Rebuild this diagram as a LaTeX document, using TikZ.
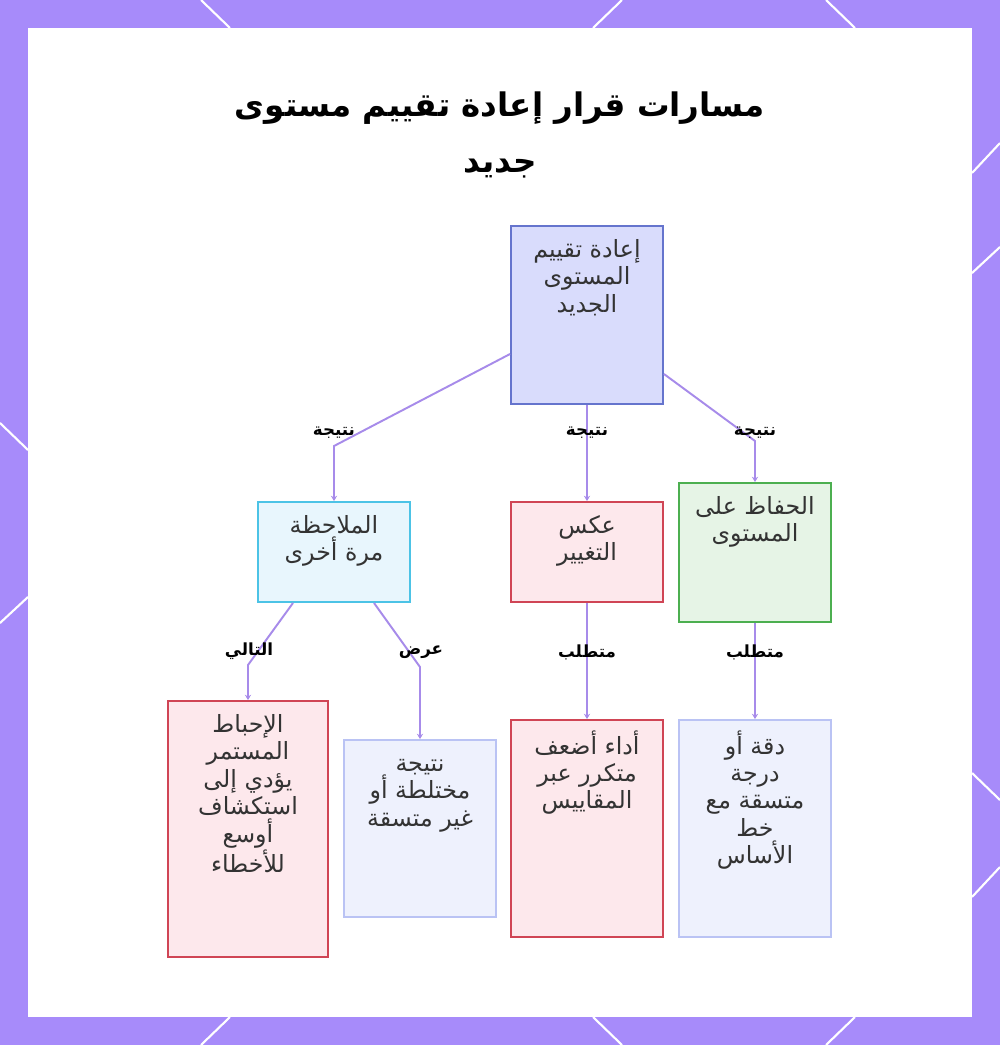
\documentclass[tikz,border=0pt]{standalone}
\usepackage{fontspec}
\usepackage{xcolor}
\usetikzlibrary{arrows.meta,calc,positioning}
\TeXXeTstate=1
\newfontfamily\arabicfont[Script=Arabic]{DejaVu Sans}
\newcommand{\arline}[1]{\beginR\rule{0pt}{12pt}#1\endR}
\newcommand{\arword}[1]{\beginR #1\endR}
\definecolor{framecol}{HTML}{A78BFA}
\definecolor{edgecol}{HTML}{A78BEA}
\definecolor{textgray}{HTML}{333333}
\definecolor{blueline}{HTML}{6574CD}
\definecolor{bluefill}{HTML}{D9DCFC}
\definecolor{cyanline}{HTML}{4CC3E6}
\definecolor{cyanfill}{HTML}{E8F6FD}
\definecolor{redline}{HTML}{D04555}
\definecolor{redfill}{HTML}{FDE8EC}
\definecolor{greenline}{HTML}{4CAF50}
\definecolor{greenfill}{HTML}{E6F4E6}
\definecolor{lavline}{HTML}{BAC3F4}
\definecolor{lavfill}{HTML}{EEF1FD}
\tikzset{%
	box/.style      = {draw, rectangle, line width=1.1pt, inner sep=0pt},
	bluebox/.style  = {box, draw=blueline, fill=bluefill},
	cyanbox/.style  = {box, draw=cyanline, fill=cyanfill},
	redbox/.style   = {box, draw=redline, fill=redfill},
	greenbox/.style = {box, draw=greenline, fill=greenfill},
	lavbox/.style   = {box, draw=lavline, fill=lavfill},
	boxtext/.style  = {align=center, inner sep=0pt, text=textgray, font=\arabicfont\fontsize{13.5}{15.6}\selectfont},
	edgelabel/.style= {inner sep=1pt, text=black, font=\arabicfont\bfseries\fontsize{9.5}{11}\selectfont},
	edge/.style     = {draw=edgecol, line width=1.1pt, -{Stealth[length=3pt,width=3.5pt]}},
}

\begin{document}
\begin{tikzpicture}[x=0.02cm,y=-0.02cm]
	\useasboundingbox (0,0) rectangle (1000,1045);
	\fill[framecol] (0,0) rectangle (1000,1045);  % outer frame
	\fill[white] (28,28) rectangle (972,1017);
	\foreach \ax/\ay/\bx/\by in {201/0/230/28, 622/0/593/28, 826/0/855/28,
		201/1045/230/1017, 622/1045/593/1017, 826/1045/855/1017,
		0/423/28/450, 0/623/28/597,
		1000/143/972/173, 1000/247/972/273, 1000/800/972/773, 1000/867/972/897}
		\draw[white, line width=1.2pt] (\ax,\ay) -- (\bx,\by);
	
	% title
	\node[align=center, text=black, font=\arabicfont\bfseries\fontsize{18.5}{32}\selectfont] (title) at (500,135)
		{\arword{مسارات قرار إعادة تقييم مستوى}\\\arword{جديد}};
	
	% boxes
	\node[bluebox, minimum width=3.04cm, minimum height=3.56cm] (root) at (587,315) {};
	\node[cyanbox, minimum width=3.04cm, minimum height=2.0cm] (observe) at (334,552) {};
	\node[redbox, minimum width=3.04cm, minimum height=2.0cm] (reverse) at (587,552) {};
	\node[greenbox, minimum width=3.04cm, minimum height=2.78cm] (keep) at (755,552.5) {};
	\node[redbox, minimum width=3.2cm, minimum height=5.12cm] (frustr) at (248,829) {};
	\node[lavbox, minimum width=3.04cm, minimum height=3.54cm] (mixed) at (420,828.5) {};
	\node[redbox, minimum width=3.04cm, minimum height=4.34cm] (weaker) at (587,828.5) {};
	\node[lavbox, minimum width=3.04cm, minimum height=4.34cm] (steady) at (755,828.5) {};
	
	% box texts
	\node[boxtext, below=0.22cm of root.north] (rootT)
		{\arline{إعادة تقييم}\\\arline{المستوى}\\\arline{الجديد}};
	\node[boxtext, below=0.22cm of observe.north] (observeT)
		{\arline{الملاحظة}\\\arline{مرة أخرى}};
	\node[boxtext, below=0.22cm of reverse.north] (reverseT)
		{\arline{عكس}\\\arline{التغيير}};
	\node[boxtext, below=0.22cm of keep.north] (keepT)
		{\arline{الحفاظ على}\\\arline{المستوى}};
	\node[boxtext, below=0.22cm of frustr.north] (frustrT)
		{\arline{الإحباط}\\\arline{المستمر}\\\arline{يؤدي إلى}\\\arline{استكشاف}\\\arline{أوسع}\\\arline{للأخطاء}};
	\node[boxtext, below=0.22cm of mixed.north] (mixedT)
		{\arline{نتيجة}\\\arline{مختلطة أو}\\\arline{غير متسقة}};
	\node[boxtext, below=0.22cm of weaker.north] (weakerT)
		{\arline{أداء أضعف}\\\arline{متكرر عبر}\\\arline{المقاييس}};
	\node[boxtext, below=0.22cm of steady.north] (steadyT)
		{\arline{دقة أو}\\\arline{درجة}\\\arline{متسقة مع}\\\arline{خط}\\\arline{الأساس}};
	
	% bends
	\coordinate (b1) at (334,446);
	\coordinate (b2) at (755,441);
	\coordinate (b3) at (248,665);
	\coordinate (b4) at (420,667);
	
	% connectors
	\draw[edge] ($(root.west)+(0,39)$) -- (b1) -- (observe.north);
	\draw[edge] (root.south) -- (reverse.north);
	\draw[edge] ($(root.east)+(0,59)$) -- (b2) -- (keep.north);
	\draw[edge] ($(observe.south)+(-41,0)$) -- (b3) -- (frustr.north);
	\draw[edge] ($(observe.south)+(40,0)$) -- (b4) -- (mixed.north);
	\draw[edge] (reverse.south) -- (weaker.north);
	\draw[edge] (keep.south) -- (steady.north);
	
	% connector labels
	\node[edgelabel] (l1) at (334,433) {\arword{نتيجة}};
	\node[edgelabel] (l2) at (587,433) {\arword{نتيجة}};
	\node[edgelabel] (l3) at (755,433) {\arword{نتيجة}};
	\node[edgelabel] (l4) at (249,651) {\arword{التالي}};
	\node[edgelabel] (l5) at (421,652) {\arword{عرض}};
	\node[edgelabel] (l6) at (587,652) {\arword{متطلب}};
	\node[edgelabel] (l7) at (755,652) {\arword{متطلب}};
	
\end{tikzpicture}
\end{document}
